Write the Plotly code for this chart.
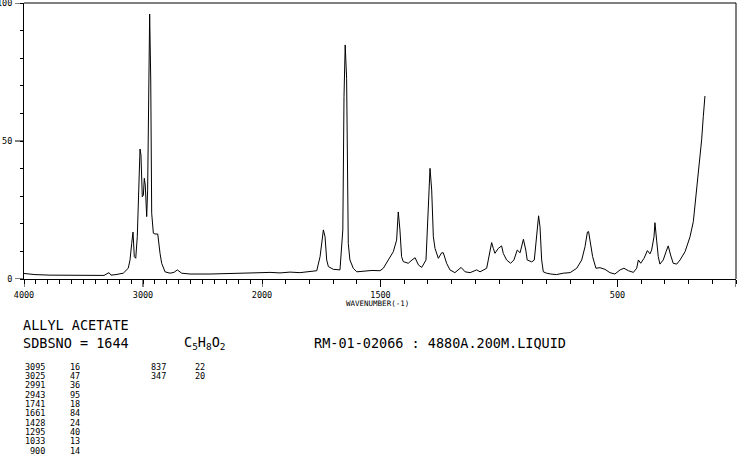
import plotly.graph_objects as go

# ---------------- data ----------------
compound = "ALLYL ACETATE"
sdbs_no = "SDBSNO = 1644"
formula = "C<sub>5</sub>H<sub>8</sub>O<sub>2</sub>"
conditions = "RM-01-02066 : 4880A.200M.LIQUID"
x_title = "WAVENUMBER(-1)"

hi_wn = [4000, 3908, 3782, 3655, 3529, 3403, 3328, 3286, 3269, 3227, 3166, 3124, 3109, 3095,
         3084, 3073, 3061, 3048, 3036, 3025, 3017, 3006, 2997, 2989, 2981, 2969, 2961, 2952,
         2944, 2935, 2927, 2913, 2899, 2876, 2871, 2857, 2843, 2815, 2773, 2740, 2712, 2675,
         2605, 2521, 2437, 2353, 2269, 2185, 2101, 2000]
hi_int = [2.0, 1.6, 1.4, 1.3, 1.2, 1.2, 1.3, 2.3, 1.4, 1.6, 2.1, 3.9, 6.9, 12.9,
          17.0, 8.1, 7.5, 15.3, 29.8, 47.1, 44.9, 29.8, 30.4, 36.5, 34.1, 22.6, 32.2, 79.3,
          96.0, 72.1, 23.8, 16.6, 16.3, 16.3, 14.1, 9.3, 5.7, 2.6, 2.1, 2.4, 3.3, 2.1,
          1.8, 1.7, 1.8, 1.9, 2.0, 2.0, 2.1, 2.3]

lo_wn = [2000, 1966, 1924, 1882, 1840, 1797, 1769, 1755, 1748, 1741, 1734, 1727, 1720, 1699,
         1671, 1659, 1654, 1649, 1643, 1640, 1636, 1629, 1615, 1600, 1565, 1536, 1502, 1488,
         1467, 1446, 1432, 1425, 1418, 1411, 1404, 1383, 1367, 1354, 1340, 1326, 1308, 1298,
         1291, 1284, 1277, 1270, 1256, 1242, 1235, 1221, 1207, 1186, 1173, 1160, 1143, 1122,
         1094, 1080, 1052, 1038, 1031, 1024, 1017, 1003, 989, 982, 968, 951, 937, 923,
         911, 897, 887, 881, 862, 851, 841, 833, 827, 820, 813, 799, 781, 757,
         729, 700, 672, 651, 637, 627, 622, 616, 605, 591, 574, 553, 532, 511,
         489, 473, 454, 433, 419, 412, 402, 388, 374, 363, 356, 346, 342, 335,
         328, 321, 307, 295, 286, 276, 265, 250, 236, 215, 194, 180, 166, 155,
         145, 138, 131]
lo_int = [2.3, 2.4, 2.2, 2.5, 2.3, 2.7, 3.0, 8.1, 12.9, 17.8, 15.3, 6.9, 4.5, 3.5,
          3.3, 17.8, 66.1, 84.8, 72.7, 42.0, 12.9, 6.9, 3.9, 2.6, 2.9, 3.1, 3.0, 3.9,
          6.9, 9.9, 14.1, 24.3, 17.8, 8.1, 6.3, 5.7, 6.9, 7.7, 5.1, 4.2, 6.9, 27.4,
          40.1, 32.2, 15.3, 11.1, 7.5, 9.5, 9.5, 5.7, 3.3, 2.3, 3.1, 4.2, 2.6, 2.3,
          3.3, 2.6, 3.9, 9.3, 13.2, 11.1, 9.3, 11.1, 12.0, 9.3, 6.9, 5.7, 6.9, 10.5,
          9.5, 14.4, 10.5, 6.9, 6.2, 6.9, 16.6, 22.9, 18.9, 6.9, 2.6, 2.1, 1.8, 1.6,
          2.1, 2.3, 3.9, 6.9, 11.7, 17.0, 17.2, 14.1, 8.1, 3.9, 4.1, 3.5, 2.3, 1.8,
          3.3, 3.9, 3.0, 2.4, 3.9, 6.9, 5.7, 7.5, 10.3, 9.1, 10.5, 15.3, 20.4, 14.1,
          8.1, 5.4, 6.9, 9.9, 12.0, 8.7, 5.7, 5.4, 6.9, 9.9, 15.3, 20.8, 32.2, 41.9,
          50.4, 58.8, 66.3]

peak_wn_1 = [3095, 3025, 2991, 2943, 1741, 1661, 1428, 1295, 1033, 900]
peak_int_1 = [16, 47, 36, 95, 18, 84, 24, 40, 13, 14]
peak_wn_2 = [837, 347]
peak_int_2 = [22, 20]

hi_ticks = [4000, 3000]
lo_ticks = [2000, 1500, 500, 0]
y_ticks = [0, 50, 100]

# ---------------- figure ----------------
W, H = 738, 457
L, R, T, B = 24, 736, 3, 279
split = (262 - L) / (R - L)

MONO = "DejaVu Sans Mono"
tickfont = dict(family=MONO, size=8.5, color="black")


def px(x):
    return (x - L) / (R - L)


def py(y):
    return (B - y) / (B - T)


fig = go.Figure()
line = dict(color="black", width=1)
fig.add_trace(go.Scatter(x=hi_wn, y=hi_int, mode="lines", line=line,
                         xaxis="x", yaxis="y", showlegend=False, hoverinfo="skip"))
fig.add_trace(go.Scatter(x=lo_wn, y=lo_int, mode="lines", line=line,
                         xaxis="x2", yaxis="y", showlegend=False, hoverinfo="skip"))


def tick_arrays(lo, hi, step, labelled):
    vals = list(range(lo, hi + 1, step))
    text_ = [str(v) if v in labelled else "" for v in vals]
    return vals, text_


hx_vals, hx_text = tick_arrays(2100, 4000, 100, hi_ticks)
lx_vals, lx_text = tick_arrays(0, 2000, 100, lo_ticks)
y_vals, y_text = tick_arrays(0, 100, 10, y_ticks)

common_x = dict(showline=True, linecolor="black", linewidth=1, ticks="outside",
                ticklen=4, tickwidth=1, tickcolor="black", showgrid=False,
                zeroline=False, tickfont=tickfont, automargin=False, fixedrange=True,
                tickmode="array", ticklabelstandoff=4)

fig.update_layout(
    width=W, height=H,
    margin=dict(l=L, r=W - R, t=T, b=H - B, pad=0),
    paper_bgcolor="white", plot_bgcolor="white",
    xaxis=dict(domain=[0, split], range=[4000, 2000], anchor="y",
               tickvals=hx_vals, ticktext=hx_text, **common_x),
    xaxis2=dict(domain=[split, 1], range=[2000, 0], anchor="y",
                tickvals=lx_vals, ticktext=lx_text, **common_x),
    yaxis=dict(domain=[0, 1], range=[0, 100], showline=True, linecolor="black",
               linewidth=1, ticks="outside", ticklen=3, tickwidth=1, tickcolor="black",
               tickmode="array", tickvals=y_vals, ticktext=y_text, ticklabelstandoff=6,
               ticklabeloverflow="allow",
               showgrid=False, zeroline=False, tickfont=tickfont, automargin=False,
               fixedrange=True),
)

shapes = []
# frame: top and right lines
shapes.append(dict(type="line", xref="paper", yref="paper", x0=0, x1=1, y0=1, y1=1,
                   line=dict(color="black", width=1)))
shapes.append(dict(type="line", xref="paper", yref="paper", x0=1, x1=1, y0=0, y1=1,
                   line=dict(color="black", width=1)))
# long (labelled) ticks
for axref, vals in (("x", hi_ticks), ("x2", lo_ticks)):
    for v in vals:
        shapes.append(dict(type="line", xref=axref, yref="paper", ysizemode="pixel",
                           yanchor=0, x0=v, x1=v, y0=0, y1=-8,
                           line=dict(color="black", width=1)))
for v in y_ticks:
    shapes.append(dict(type="line", xref="paper", yref="y", xsizemode="pixel",
                       xanchor=0, x0=0, x1=-9, y0=v, y1=v,
                       line=dict(color="black", width=1)))
fig.update_layout(shapes=shapes)

ann = []


def text(x, y, s, size, anchor="left"):
    ann.append(dict(x=px(x), y=py(y), xref="paper", yref="paper", text=s,
                    showarrow=False, xanchor=anchor, yanchor="middle",
                    font=dict(family=MONO, size=size, color="black"),
                    borderpad=0))


text(345, 303, x_title, 7.5)
text(22, 324.5, compound, 13.5)
text(22, 342.5, sdbs_no, 13.5)
text(183, 343, formula, 13.5)
text(313, 342.5, conditions, 13.5)

for i, (wn, it) in enumerate(zip(peak_wn_1, peak_int_1)):
    yy = 366.7 + i * 9.33
    text(46, yy, str(wn), 8.5, "right")
    text(81, yy, str(it), 8.5, "right")
for i, (wn, it) in enumerate(zip(peak_wn_2, peak_int_2)):
    yy = 366.7 + i * 9.33
    text(167, yy, str(wn), 8.5, "right")
    text(206, yy, str(it), 8.5, "right")

fig.update_layout(annotations=ann)
fig.write_html("out.html", config={"displayModeBar": False},
               post_script="document.body.style.margin='0';document.body.style.padding='0';")
